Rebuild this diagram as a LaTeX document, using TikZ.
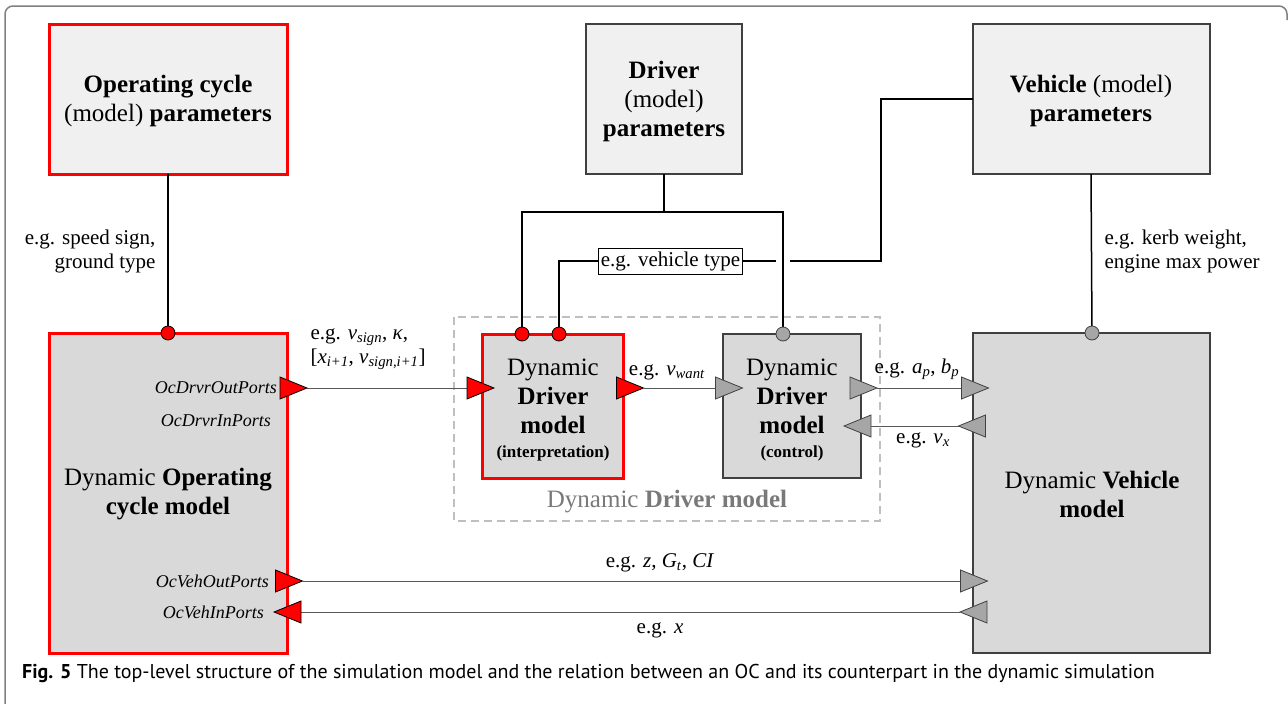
\documentclass[tikz,border=0pt]{standalone}
\usepackage{fontspec}
\setmainfont{Liberation Serif}
\newfontfamily\capfont{PT Sans}
\newcommand\mv[1]{\textit{#1}}
\newcommand\msb[1]{\textsubscript{\textit{#1}}}
\definecolor{boxred}{HTML}{FF0000}
\definecolor{parfill}{HTML}{F0F0F0}
\definecolor{dynfill}{HTML}{D9D9D9}
\definecolor{trigray}{HTML}{A6A6A6}
\definecolor{edge}{HTML}{404040}
\definecolor{wire}{HTML}{595959}
\definecolor{dashgray}{HTML}{BFBFBF}
\definecolor{framegray}{HTML}{808080}
\tikzset{
  big/.style={font=\fontsize{25}{29}\selectfont, align=center},
  mid/.style={font=\fontsize{21}{24}\selectfont},
  port/.style={font=\fontsize{18}{22}\selectfont\itshape, anchor=east, inner sep=0pt},
  parbox/.style={draw=edge, line width=2pt, fill=parfill},
  redpar/.style={draw=boxred, line width=3pt, fill=parfill},
  dynbox/.style={draw=edge, line width=2pt, fill=dynfill},
  reddyn/.style={draw=boxred, line width=3pt, fill=dynfill},
  pline/.style={draw=black, line width=1.5pt},
  wireline/.style={draw=wire, line width=1pt},
  redport/.style={fill=boxred, draw=black, line width=0.8pt},
  grayport/.style={fill=trigray, draw=edge, line width=0.8pt},
  pics/trir/.style={code={\path[pic actions] (-13.5,-11) -- (13.5,0) -- (-13.5,11) -- cycle;}},
  pics/tril/.style={code={\path[pic actions] (13.5,-11) -- (-13.5,0) -- (13.5,11) -- cycle;}},
}
\begin{document}
\begin{tikzpicture}[x=1pt, y=-1pt]
\useasboundingbox (0,0) rectangle (1288,704);
% frame
\draw[framegray, line width=1.5pt, rounded corners=8pt] (5,720) -- (5,6) -- (1287,6) -- (1287,20);

% parameter boxes
\path[redpar] (49,24) rectangle (287,174);
\node[big] (ocp) at (168,101) {\textbf{Operating cycle}\\(model) \textbf{parameters}};
\path[parbox] (586,24) rectangle (742,174);
\node[big] (dp) at (664,101) {\textbf{Driver}\\(model)\\\textbf{parameters}};
\path[parbox] (973,24) rectangle (1210,174);
\node[big] (vp) at (1091,101) {\textbf{Vehicle} (model)\\\textbf{parameters}};
\coordinate (ocpS) at (168,174);
\coordinate (dpS) at (664,174);
\coordinate (vpS) at (1091,174);
\coordinate (vpW) at (973,99);

% dashed driver box
\draw[dashgray, line width=1.5pt, dash pattern=on 8pt off 5pt] (454,317) rectangle (880,521);
\node[big, text=gray!95!black] (ddm) at (667,502) {Dynamic \textbf{Driver model}};

% dynamic boxes
\path[reddyn] (49,333) rectangle (287,653);
\node[big] (ocd) at (168,494) {Dynamic \textbf{Operating}\\\textbf{cycle model}};
\path[dynbox] (973,333) rectangle (1210,653);
\node[big] (vd) at (1092,494) {Dynamic \textbf{Vehicle}\\\textbf{model}};
\path[reddyn] (482,334) rectangle (623,478);
\node[big] (di) at (553,410) {Dynamic\\\textbf{Driver}\\\textbf{model}\\[-5pt]{\fontsize{17}{20}\selectfont\textbf{(interpretation)}}};
\path[dynbox] (723,334) rectangle (861,478);
\node[big] (dc) at (792,410) {Dynamic\\\textbf{Driver}\\\textbf{model}\\[-5pt]{\fontsize{17}{20}\selectfont\textbf{(control)}}};

% parameter connections
\coordinate (ocC) at (168,333);
\coordinate (di1) at (522,334);
\coordinate (di2) at (559,334);
\coordinate (dcC) at (783,334);
\coordinate (vdC) at (1092,333);
\coordinate (dj) at (664,212);
\draw[pline] (ocpS) -- (ocC);
\draw[pline] (dpS) -- (dj);
\draw[pline] (di1) |- (dj) -| (dcC);
\draw[pline] (vpS) -- (vdC);
\node[draw=black, line width=1pt, fill=white, mid, inner sep=2pt, minimum height=26pt] (vt) at (670.5,261) {e.g. vehicle type};
\coordinate (hopL) at (776,261);
\coordinate (hopR) at (790,261);
\coordinate (vtc) at (881,261);
\draw[pline] (vt.west) -| (di2);
\draw[pline] (vt.east) -- (hopL);
\draw[pline] (hopR) -- (vtc) |- (vpW);

\node[mid, align=right, anchor=east] (l1) at (159,251) {e.g. speed sign,\\ground type};
\node[mid, align=left, anchor=west] (l2) at (1101,251) {e.g. kerb weight,\\engine max power};

% circles
\foreach \c in {ocC,di1,di2} \filldraw[fill=boxred, draw=black, line width=0.8pt] (\c) circle (7);
\foreach \c in {dcC,vdC} \filldraw[fill=trigray, draw=edge, line width=0.8pt] (\c) circle (7);

% ports and signal lines
\coordinate (p1) at (293.5,388);
\coordinate (p2) at (480.5,388);
\coordinate (p3) at (630,388);
\coordinate (p4) at (729,388);
\coordinate (p5) at (863.5,388);
\coordinate (p6) at (975,388);
\coordinate (p7) at (972,426);
\coordinate (p8) at (857.5,426);
\coordinate (p9) at (289,581);
\coordinate (p10) at (974,581);
\coordinate (p11) at (973.5,612);
\coordinate (p12) at (287.5,612);
\draw[wireline] ([xshift=13.5pt]p1) -- ([xshift=-13.5pt]p2);
\draw[wireline] ([xshift=13.5pt]p3) -- ([xshift=-13.5pt]p4);
\draw[wireline] ([xshift=13.5pt]p5) -- ([xshift=-13.5pt]p6);
\draw[wireline] ([xshift=-13.5pt]p7) -- ([xshift=13.5pt]p8);
\draw[wireline] ([xshift=13.5pt]p9) -- ([xshift=-13.5pt]p10);
\draw[wireline] ([xshift=-13.5pt]p11) -- ([xshift=13.5pt]p12);
\pic[redport] at (p1) {trir};
\pic[redport] at (p2) {trir};
\pic[redport] at (p3) {trir};
\pic[grayport] at (p4) {trir};
\pic[grayport] at (p5) {trir};
\pic[grayport] at (p6) {trir};
\pic[grayport] at (p7) {tril};
\pic[grayport] at (p8) {tril};
\pic[redport] at (p9) {trir};
\pic[grayport] at (p10) {trir};
\pic[grayport] at (p11) {tril};
\pic[redport] at (p12) {tril};

\node[port] (o1) at (277,388) {OcDrvrOutPorts};
\node[port] (o2) at (271,421) {OcDrvrInPorts};
\node[port] (o3) at (269,581) {OcVehOutPorts};
\node[port] (o4) at (264,612) {OcVehInPorts};

\node[mid, align=left, anchor=west] (s1) at (307,349) {e.g. \mv{v}\msb{sign}, \mv{κ},\\{}[\mv{x}\msb{i+1}, \mv{v}\msb{sign,i+1}]};
\node[mid] (s2) at (667,372) {e.g. \mv{v}\msb{want}};
\node[mid] (s3) at (917,369) {e.g. \mv{a}\msb{p}, \mv{b}\msb{p}};
\node[mid] (s4) at (923,440) {e.g. \mv{v}\msb{x}};
\node[mid] (s5) at (660,563) {e.g. \mv{z}, \mv{G}\msb{t}, \mv{CI}};
\node[mid] (s6) at (660,630) {e.g. \mv{x}};

% caption
\node[anchor=base west, inner sep=0pt, font=\capfont\fontsize{20}{24}\selectfont] (cap) at (22,678) {\textbf{Fig. 5} The top-level structure of the simulation model and the relation between an OC and its counterpart in the dynamic simulation};
\end{tikzpicture}
\end{document}
